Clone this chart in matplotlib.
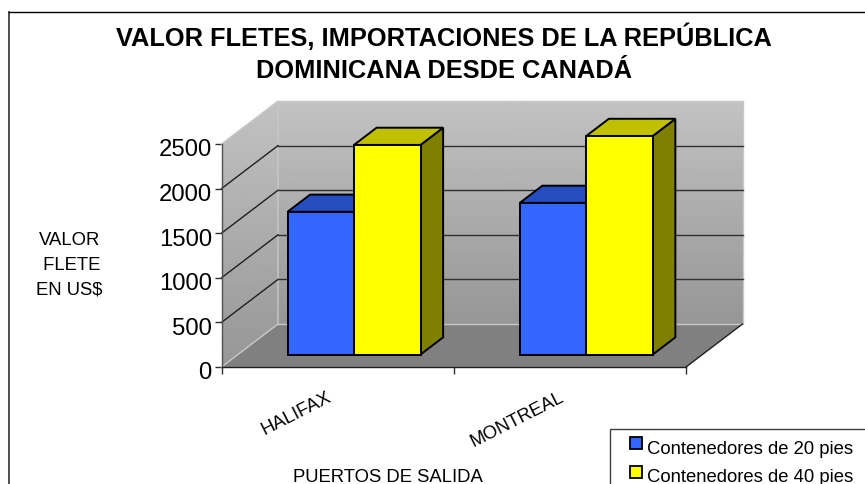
import numpy as np
import matplotlib
matplotlib.use("Agg")
import matplotlib.pyplot as plt
from matplotlib.patches import Polygon, Rectangle
from matplotlib.transforms import ScaledTranslation

plt.rcParams['font.family'] = ['Liberation Sans', 'DejaVu Sans']

puertos = ["HALIFAX", "MONTREAL"]
series = ["Contenedores de 20 pies", "Contenedores de 40 pies"]
valores_20 = [1600, 1700]
valores_40 = [2350, 2450]
ticks_y = [0, 500, 1000, 1500, 2000, 2500]

W, H = 865, 485
# pseudo 3d: one unit of depth moves this far in data units
DX = 56.5 / 232.25
DY = 43 / 223 * 2500
BAR_W = 66.5 / 232.25
D0, D1 = 0.29, 0.69


def pr(x, v, d=0):
    return (x + d * DX, v + d * DY)


fig = plt.figure(figsize=(W / 100, H / 100), dpi=100)
ax = fig.add_axes([221.5 / W, (H - 368) / H, 464.5 / W, 223 / H])
for s in ax.spines.values():
    s.set_visible(False)
ax.patch.set_visible(False)

# walls with gradient
grad = np.linspace(0.76, 0.59, 100).reshape(-1, 1)
back = Polygon([pr(0, 0, 1), pr(2, 0, 1), pr(2, 2500, 1), pr(0, 2500, 1)], closed=True,
               fc='none', ec='none')
left = Polygon([pr(0, 0), pr(0, 0, 1), pr(0, 2500, 1), pr(0, 2500)], closed=True,
               fc='none', ec='none')
ax.add_patch(back)
ax.add_patch(left)
im1 = ax.imshow(grad, cmap='gray', vmin=0, vmax=1, aspect='auto', zorder=1,
                extent=[DX, 2 + DX, DY, 2500 + DY])
im2 = ax.imshow(grad, cmap='gray', vmin=0, vmax=1, aspect='auto', zorder=1,
                extent=[0, DX, 0, 2500 + DY])
for im, poly in [(im1, back), (im2, left)]:
    im.set_clip_box(fig.bbox)
    im.set_clip_path(poly)
ax.set_xlim(0, 2)
ax.set_ylim(0, 2500)

# floor
ax.add_patch(Polygon([pr(0, 0), pr(2, 0), pr(2, 0, 1), pr(0, 0, 1)], closed=True,
                     fc='#808080', ec='none', zorder=2, clip_on=False))
# light edges of the walls
ax.plot(*zip(pr(0, 0), pr(0, 0, 1), pr(0, 2500, 1), pr(0, 2500)), color='#c8c8c8', lw=1, zorder=3, clip_on=False)
ax.plot(*zip(pr(0, 0, 1), pr(2, 0, 1), pr(2, 2500, 1), pr(0, 2500, 1)), color='#c8c8c8', lw=1, zorder=3, clip_on=False)

# gridlines, none at the top level
for v in ticks_y[1:-1]:
    a, b, c = pr(0, v), pr(0, v, 1), pr(2, v, 1)
    ax.plot([a[0], b[0]], [a[1], b[1]], color='#202020', lw=1, zorder=3, clip_on=False)
    ax.plot([b[0], c[0]], [b[1], c[1]], color='#303030', lw=1, zorder=3, clip_on=False)

# front axes and the floor edge
ax.plot([0, 0], [0, 2500], color='#505050', lw=1, zorder=4, clip_on=False)
ax.plot([0, 2], [0, 0], color='#202020', lw=1, zorder=4, clip_on=False)
ax.plot(*zip(pr(2, 0), pr(2, 0, 1)), color='#202020', lw=1, zorder=4, clip_on=False)

ax.set_yticks(ticks_y)
ax.set_yticklabels(ticks_y, fontsize=17.2)
ax.set_xticks([0, 1, 2])
ax.set_xticklabels([])
ax.tick_params(axis='both', length=5, width=1, color='#303030', pad=2)
# numbers sit a little under their ticks
shift = ScaledTranslation(0, -3 / 100, fig.dpi_scale_trans)
for lab in ax.get_yticklabels():
    lab.set_transform(lab.get_transform() + shift)


def bar3d(xc, val, col, top, side, z):
    x0, x1 = xc - BAR_W, xc
    if col == '#ffff00':
        x0, x1 = xc, xc + BAR_W
    kw = dict(closed=True, ec='black', lw=1.4, zorder=z, joinstyle='miter', clip_on=False)
    ax.add_patch(Polygon([pr(x1, 0, D0), pr(x1, 0, D1), pr(x1, val, D1), pr(x1, val, D0)], fc=side, **kw))
    ax.add_patch(Polygon([pr(x0, val, D0), pr(x1, val, D0), pr(x1, val, D1), pr(x0, val, D1)], fc=top, **kw))
    ax.add_patch(Polygon([pr(x0, 0, D0), pr(x1, 0, D0), pr(x1, val, D0), pr(x0, val, D0)], fc=col, **kw))


for i in range(len(puertos)):
    bar3d(i + 0.5, valores_20[i], '#3366ff', '#264dbf', '#264dbf', 5 + 2 * i)
    bar3d(i + 0.5, valores_40[i], '#ffff00', '#c0c000', '#808000', 6 + 2 * i)

# rotated category labels
for i, p in enumerate(puertos):
    ax.annotate(p, (i + 0.5, 0), xytext=(-11, -21), textcoords='offset pixels', fontsize=13.3,
                rotation=27, rotation_mode='anchor', ha='right', va='top', color='black',
                annotation_clip=False)

fig.text(444 / W, 1 - 37 / H, "VALOR FLETES, IMPORTACIONES DE LA REPÚBLICA", fontsize=18.3,
         fontweight='bold', ha='center', va='center')
fig.text(444 / W, 1 - 71.5 / H, "DOMINICANA DESDE CANADÁ", fontsize=18.3,
         fontweight='bold', ha='center', va='center')
fig.text(69.5 / W, 1 - 240.5 / H, "VALOR", fontsize=13.3, ha='center', va='center')
fig.text(69.5 / W, 1 - 265.5 / H, " FLETE", fontsize=13.3, ha='center', va='center')
fig.text(69.5 / W, 1 - 290 / H, "EN US$", fontsize=13.3, ha='center', va='center')
fig.text(388 / W, 1 - 478 / H, "PUERTOS DE SALIDA", fontsize=13.3, ha='center', va='center')

# outer frame
fig.add_artist(plt.Line2D([8.5 / W, 8.5 / W], [0, 1 - 12.5 / H], color='#404040', lw=1.3))
fig.add_artist(plt.Line2D([8.5 / W, 870 / W], [1 - 12.5 / H, 1 - 12.5 / H], color='black', lw=1))

# legend box, drawn by hand because it runs off the edge
fig.add_artist(Rectangle((610 / W, -0.02), 260 / W, 0.02 + (H - 430) / H, transform=fig.transFigure,
                         fc='white', ec='#404040', lw=1))
for y, y_txt, name, col in zip([444, 473], [450, 478], series, ['#3366ff', '#ffff00']):
    fig.add_artist(Rectangle((630 / W, 1 - (y + 6) / H), 12 / W, 12 / H, transform=fig.transFigure,
                             fc=col, ec='black', lw=1.3))
    fig.text(647 / W, 1 - y_txt / H, name, fontsize=13.3, ha='left', va='center')

fig.savefig("out.png", dpi=100)
